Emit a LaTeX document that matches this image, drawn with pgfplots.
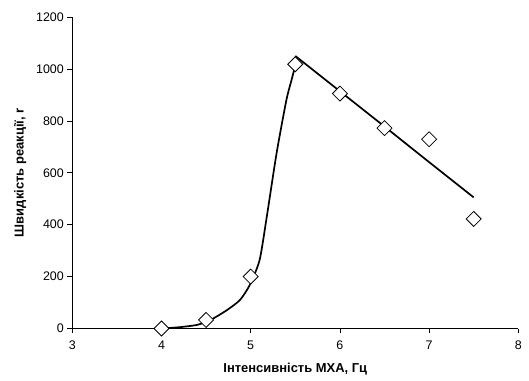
\documentclass[border=0pt]{standalone}
\usepackage{pgfplots}
\pgfplotsset{compat=1.18}
\usepackage{fontspec}
\setmainfont{Liberation Sans}
\begin{document}
\begin{tikzpicture}
\useasboundingbox (0,0) rectangle (529bp,381bp);
\begin{axis}[
  at={(72.3bp,52.5bp)}, anchor=origin,
  scale only axis,
  width=446bp, height=311.5bp,
  xmin=3, xmax=8, ymin=0, ymax=1200,
  axis x line=bottom, axis y line=left,
  axis line style={-, line width=0.6bp},
  tick align=outside,
  major tick length=5bp,
  tick style={black, line width=0.6bp},
  xtick={3,4,5,6,7,8},
  ytick={0,200,400,600,800,1000,1200},
  /pgf/number format/assume math mode=true,
  /pgf/number format/1000 sep={},
  ticklabel style={font=\fontsize{12.5}{15}\selectfont},
  xticklabel style={yshift=-4bp},
  xlabel={\bfseries Інтенсивність МХА, Гц},
  ylabel={\bfseries Швидкість реакції, r},
  label style={font=\fontsize{13}{15}\selectfont},
  xlabel style={at={(axis description cs:0.5,-0.1316)}, anchor=center},
  ylabel style={at={(axis description cs:-0.1166,0.5)}, anchor=center},
  clip=false,
]
\addplot[black, line width=1.7bp, smooth, tension=0.4] coordinates {
  (4.0,0) (4.2,5) (4.4,14) (4.55,33) (4.73,70) (4.88,110) (4.99,168)
  (5.1,264) (5.18,430) (5.29,675) (5.4,880) (5.46,960) (5.5,1015)
};
\addplot[black, line width=1.7bp] coordinates {
  (5.5,1050) (6.0,914) (6.5,778) (7.0,641) (7.5,505)
};
\addplot[only marks, mark=square*, mark size=5.3bp,
  mark options={rotate=45, fill=white, draw=black, line width=0.8bp}] coordinates {
  (4,0) (4.5,33) (5,200) (5.5,1018) (6,905) (6.5,772) (7,729) (7.5,422)
};
\end{axis}
\end{tikzpicture}
\end{document}
